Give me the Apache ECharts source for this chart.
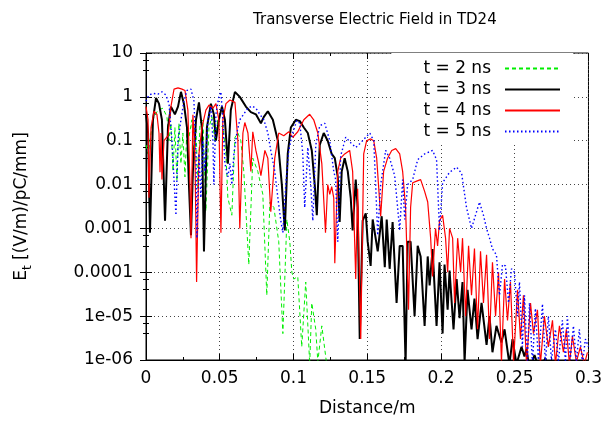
<!DOCTYPE html>
<html>
<head>
<meta charset="utf-8">
<script src="https://cdn.jsdelivr.net/npm/echarts@6/dist/echarts.min.js"></script>
<style>
  html, body { margin: 0; padding: 0; background: #fff; }
  #chart { width: 605px; height: 422px; }
</style>
</head>
<body>
<div id="chart"></div>
<script>
// tick labels of the log axis, from 1e-06 up to 10
var yTickLabels = ['1e-06', '1e-05', '0.0001', '0.001', '0.01', '0.1', '1', '10'];
var seriesNames = ['t = 2 ns', 't = 3 ns', 't = 4 ns', 't = 5 ns'];

// [distance (m), field]
var t2 = [[0,0.08],[0.0014,0.05],[0.0027,0.1],[0.0047,0.3],[0.008,0.5],[0.0115,0.55],[0.0142,0.35],[0.0156,0.1],
  [0.0169,0.25],[0.0183,0.02],[0.0196,0.2],[0.021,0.012],[0.0223,0.25],[0.0237,0.03],[0.025,0.15],[0.0264,0.015],
  [0.0278,0.2],[0.0291,0.12],[0.0311,0.3],[0.0325,0.03],[0.0339,0.2],[0.0352,0.008],[0.0366,0.25],[0.0386,0.3],
  [0.0406,0.0025],[0.0427,0.2],[0.0447,0.35],[0.0467,0.1],[0.0487,0.3],[0.05,0.2],[0.0521,0.22],[0.0542,0.05],
  [0.0555,0.005],[0.0582,0.002],[0.0603,0.12],[0.0623,0.15],[0.0643,0.1],[0.0663,0.02],[0.0697,0.00015],[0.0724,0.04],
  [0.0758,0.02],[0.0792,0.006],[0.0819,0.00003],[0.084,0.004],[0.0867,0.003],[0.09,0.0005],[0.0928,0.000004],
  [0.0955,0.0016],[0.0975,0.0005],[0.0989,0.0001],[0.1002,0.00007],[0.1029,0.00008],[0.1056,0.000002],[0.1083,0.00006],
  [0.111,0.0000008],[0.1124,0.00002],[0.1151,0.000005],[0.1165,0.0000009],[0.1192,0.000006],[0.1225,0.0000008]];

var t3 = [[0,0.4],[0.0014,0.15],[0.0027,0.0008],[0.0047,0.3],[0.0068,0.95],[0.0088,0.7],[0.0108,0.3],[0.0129,0.0015],
  [0.0149,0.2],[0.0169,0.6],[0.0196,0.4],[0.0217,0.6],[0.0237,1.3],[0.0257,0.7],[0.0278,0.2],[0.0291,0.01],[0.0305,0.0007],
  [0.0318,0.02],[0.0339,0.3],[0.0359,0.75],[0.0379,0.2],[0.0393,0.0003],[0.0413,0.2],[0.044,0.7],[0.046,0.4],[0.0474,0.1],
  [0.0494,0.3],[0.0515,0.6],[0.0535,0.3],[0.0555,0.03],[0.0575,0.5],[0.0603,1.3],[0.0636,1.0],[0.0677,0.6],[0.0711,0.45],
  [0.0745,0.4],[0.0779,0.25],[0.0799,0.35],[0.0826,0.47],[0.086,0.3],[0.0894,0.1],[0.0921,0.01],[0.0941,0.0009],
  [0.0961,0.05],[0.0982,0.2],[0.1016,0.3],[0.1043,0.28],[0.107,0.2],[0.1097,0.15],[0.1124,0.06],[0.1144,0.01],
  [0.1158,0.002],[0.1178,0.08],[0.1205,0.15],[0.1232,0.1],[0.1259,0.05],[0.128,0.04],[0.13,0.015],[0.1313,0.0014],
  [0.1327,0.02],[0.1347,0.04],[0.1368,0.02],[0.1388,0.005],[0.1401,0.0009],[0.1422,0.013],[0.1435,0.003],[0.1449,0.000003],
  [0.1469,0.0015],[0.149,0.0022],[0.1503,0.0005],[0.1523,0.00014],[0.1537,0.0016],[0.1571,0.0003],[0.1598,0.0019],
  [0.1619,0.00013],[0.1632,0.0016],[0.1652,0.00012],[0.1672,0.0014],[0.1699,0.00002],[0.172,0.0004],[0.174,0.0004],
  [0.176,0.0000008],[0.1774,0.0005],[0.1794,0.0005],[0.1821,0.00001],[0.1842,0.0004],[0.1862,0.00023],[0.1889,0.000006],
  [0.191,0.00023],[0.1923,0.00005],[0.1943,0.00034],[0.197,0.000006],[0.199,0.00017],[0.2011,0.000004],[0.2024,0.00015],
  [0.2045,0.000014],[0.2058,0.00011],[0.2085,0.000005],[0.2106,0.00007],[0.2126,0.000009],[0.2146,0.00006],[0.216,0.0000009],
  [0.218,0.00004],[0.2207,0.000005],[0.2227,0.000025],[0.2248,0.000003],[0.2275,0.00002],[0.2309,0.0000022],[0.2329,0.00001],
  [0.2349,0.0000015],[0.2376,0.000006],[0.241,0.0000025],[0.2431,0.000005],[0.2464,0.0000008],[0.2485,0.000003],
  [0.2512,0.0000008],[0.2546,0.000002],[0.2566,0.0000012],[0.258,0.0000018],[0.26,0.0000006],[0.2634,0.0000013],
  [0.2668,0.0000006],[0.2708,0.0000011],[0.2735,0.0000005]];

var t4 = [[0,0.6],[0.0014,0.3],[0.002,0.005],[0.0034,0.2],[0.0054,0.47],[0.0074,0.4],[0.0088,0.15],[0.0095,0.019],
  [0.0102,0.15],[0.0108,0.013],[0.0122,0.1],[0.0135,0.11],[0.0149,0.13],[0.0169,0.6],[0.019,1.5],[0.0217,1.6],[0.0244,1.5],
  [0.0264,1.4],[0.0284,0.5],[0.0298,0.01],[0.0305,0.0006],[0.0318,0.39],[0.0332,0.05],[0.0343,0.00006],[0.0359,0.05],
  [0.0379,0.2],[0.0406,0.5],[0.0427,0.65],[0.0454,0.55],[0.0474,0.7],[0.0494,0.3],[0.0508,0.0008],[0.0521,0.3],[0.0542,0.7],
  [0.0569,0.85],[0.0603,0.75],[0.0623,0.1],[0.0636,0.001],[0.0657,0.15],[0.067,0.26],[0.0691,0.15],[0.0711,0.02],
  [0.0724,0.16],[0.0745,0.06],[0.0765,0.03],[0.0779,0.016],[0.0806,0.06],[0.0826,0.04],[0.0846,0.0024],[0.0873,0.04],
  [0.09,0.15],[0.0934,0.13],[0.0968,0.16],[0.0995,0.12],[0.1029,0.16],[0.107,0.3],[0.111,0.4],[0.1137,0.3],[0.1165,0.15],
  [0.1192,0.03],[0.1217,0.0008],[0.1232,0.01],[0.1246,0.006],[0.1259,0.009],[0.1273,0.005],[0.128,0.00016],[0.13,0.02],
  [0.132,0.04],[0.1347,0.05],[0.1381,0.06],[0.1401,0.02],[0.1422,0.00007],[0.1435,0.008],[0.1456,0.000003],[0.1476,0.05],
  [0.1496,0.1],[0.1523,0.11],[0.1544,0.1],[0.1564,0.04],[0.1591,0.0019],[0.1611,0.02],[0.1638,0.04],[0.1666,0.06],
  [0.1693,0.066],[0.172,0.05],[0.174,0.02],[0.176,0.003],[0.178,0.000014],[0.1794,0.003],[0.1808,0.011],[0.1835,0.012],
  [0.1862,0.013],[0.1889,0.007],[0.191,0.004],[0.193,0.0006],[0.1943,0.00008],[0.1963,0.001],[0.1977,0.0004],[0.199,0.0015],
  [0.2011,0.002],[0.2031,0.0006],[0.2045,0.0001],[0.2058,0.001],[0.2079,0.0006],[0.2092,0.00002],[0.2113,0.0006],
  [0.2133,0.0001],[0.2146,0.0006],[0.2167,0.00001],[0.2187,0.0004],[0.2207,0.00003],[0.2227,0.00035],[0.2248,0.000005],
  [0.2268,0.0003],[0.2288,0.00002],[0.2309,0.00025],[0.2329,0.000003],[0.2349,0.00017],[0.237,0.00001],[0.239,0.0001],
  [0.241,0.0000009],[0.2431,0.00007],[0.2451,0.000008],[0.2471,0.00006],[0.2492,0.0000009],[0.2519,0.00004],
  [0.2539,0.000003],[0.2559,0.00003],[0.258,0.0000008],[0.2607,0.00002],[0.2627,0.000004],[0.2654,0.000014],
  [0.2674,0.0000008],[0.2701,0.00001],[0.2728,0.000002],[0.2756,0.000008],[0.2776,0.0000008],[0.2803,0.000006],
  [0.283,0.0000015],[0.285,0.000005],[0.2871,0.0000008],[0.2891,0.0000035],[0.2918,0.0000009],[0.2945,0.000002],
  [0.2972,0.0000008],[0.2993,0.0000015]];

var t5 = [[0,0.8],[0.002,1.1],[0.0047,1.2],[0.0081,1.15],[0.0108,1.3],[0.0135,1.1],[0.0156,0.7],[0.0176,0.1],[0.019,0.013],
  [0.0203,0.002],[0.0217,0.1],[0.0237,0.3],[0.0257,0.8],[0.0278,1.4],[0.0305,1.5],[0.0325,0.8],[0.0339,0.05],[0.0345,0.0006],
  [0.0359,0.05],[0.0372,0.005],[0.0386,0.1],[0.0399,0.02],[0.042,0.3],[0.044,0.6],[0.0454,0.1],[0.046,0.01],[0.0474,0.4],
  [0.0494,1.0],[0.0508,1.3],[0.0521,0.3],[0.0535,0.03],[0.0555,0.015],[0.0569,0.03],[0.0582,0.01],[0.0596,0.05],
  [0.0616,0.15],[0.0636,0.3],[0.0657,0.38],[0.0691,0.55],[0.0718,0.62],[0.0745,0.55],[0.0772,0.4],[0.0799,0.3],
  [0.0826,0.15],[0.0846,0.06],[0.0873,0.02],[0.0894,0.005],[0.0914,0.0015],[0.0928,0.0008],[0.0948,0.01],[0.0968,0.06],
  [0.0989,0.13],[0.1022,0.29],[0.1043,0.25],[0.1063,0.05],[0.1076,0.003],[0.1097,0.07],[0.1117,0.01],[0.1131,0.0015],
  [0.1151,0.08],[0.1178,0.22],[0.1212,0.25],[0.1246,0.1],[0.1273,0.02],[0.1286,0.013],[0.13,0.0005],[0.132,0.045],
  [0.1354,0.12],[0.1388,0.09],[0.1422,0.07],[0.1456,0.09],[0.149,0.12],[0.1517,0.15],[0.1544,0.1],[0.1557,0.01],
  [0.1571,0.0007],[0.1591,0.01],[0.1625,0.06],[0.1652,0.04],[0.1686,0.016],[0.1706,0.003],[0.172,0.0009],[0.174,0.013],
  [0.1754,0.0016],[0.1774,0.01],[0.1808,0.013],[0.1842,0.037],[0.1889,0.05],[0.1943,0.06],[0.197,0.037],[0.199,0.0009],
  [0.2011,0.011],[0.2058,0.019],[0.2106,0.025],[0.214,0.018],[0.2173,0.003],[0.2207,0.001],[0.2234,0.002],[0.2261,0.004],
  [0.2288,0.002],[0.2309,0.001],[0.2329,0.0006],[0.2349,0.00034],[0.2376,0.00025],[0.2383,0.00012],[0.2397,0.00003],
  [0.2417,0.00015],[0.2437,0.00014],[0.2458,0.00002],[0.2478,0.00012],[0.2498,0.0001],[0.2519,0.00001],[0.2532,0.00006],
  [0.2552,0.000002],[0.2566,0.00003],[0.2586,0.0000009],[0.26,0.00002],[0.262,0.0000008],[0.264,0.000015],
  [0.2661,0.0000009],[0.2688,0.000019],[0.2708,0.0000008],[0.2728,0.00001],[0.2749,0.000001],[0.2776,0.000005],
  [0.2796,0.0000009],[0.2823,0.000008],[0.2844,0.0000009],[0.2857,0.00001],[0.2877,0.000001],[0.2898,0.000006],
  [0.2918,0.0000009],[0.2938,0.000005],[0.2959,0.0000008],[0.2979,0.000003],[0.3,0.000002]];

var font = 'DejaVu Sans';
var myChart = echarts.init(document.getElementById('chart'), null, { renderer: 'canvas' });

function mkSeries(name, data, color, width, dash) {
  return {
    name: name,
    type: 'line',
    data: data,
    symbol: 'none',
    showSymbol: false,
    clip: true,
    animation: false,
    lineStyle: { color: color, width: width, type: dash },
    itemStyle: { color: color },
    z: 2
  };
}

var option = {
  animation: false,
  backgroundColor: '#fff',
  title: {
    text: 'Transverse Electric Field in TD24',
    left: 253,
    top: 13,
    padding: 0,
    textStyle: { fontFamily: font, fontSize: 15, fontWeight: 'normal', color: '#000' }
  },
  legend: {
    data: seriesNames,
    orient: 'vertical',
    right: 32,
    top: 53,
    align: 'right',
    itemWidth: 55,
    itemHeight: 14,
    itemGap: 4,
    padding: [7, 12, 2, 32],
    backgroundColor: '#fff',
    selectedMode: false,
    itemStyle: { opacity: 0, borderWidth: 0 },
    textStyle: { fontFamily: font, fontSize: 17, color: '#000', padding: [0, 9, 0, 0] },
    z: 10
  },
  grid: {
    left: 146, right: 16, top: 53, bottom: 61,
    show: true, borderColor: '#000', borderWidth: 1, backgroundColor: 'transparent'
  },
  xAxis: [{
    type: 'value', min: 0, max: 0.3, interval: 0.05,
    name: 'Distance/m', nameLocation: 'middle', nameGap: 40,
    nameTextStyle: { fontFamily: font, fontSize: 17, color: '#000' },
    axisLine: { show: true, lineStyle: { color: '#000' } },
    axisTick: { show: true, inside: true, length: 6, lineStyle: { color: '#000' } },
    minorTick: { show: true, splitNumber: 2, length: 3, lineStyle: { color: '#000' } },
    axisLabel: { fontFamily: font, fontSize: 17, color: '#000', margin: 10 },
    splitLine: { show: true, lineStyle: { color: '#444', type: [1, 3], width: 1 } }
  }, {
    type: 'value', min: 0, max: 0.3, interval: 0.05, position: 'top',
    axisLine: { show: false },
    axisTick: { show: true, inside: true, length: 6, lineStyle: { color: '#000' } },
    minorTick: { show: true, splitNumber: 2, length: 3, lineStyle: { color: '#000' } },
    axisLabel: { show: false },
    splitLine: { show: false }
  }],
  yAxis: [{
    type: 'log', logBase: 10, min: 1e-6, max: 10, interval: 1,
    name: '{m|E}{s|t}{m| [(V/m)/pC/mm]}', nameLocation: 'middle', nameGap: 112,
    nameTextStyle: {
      fontFamily: font, color: '#000',
      rich: {
        m: { fontFamily: font, fontSize: 17, color: '#000', lineHeight: 24 },
        s: { fontFamily: font, fontSize: 12, color: '#000', lineHeight: 24, verticalAlign: 'bottom' }
      }
    },
    axisLine: { show: true, lineStyle: { color: '#000' } },
    axisTick: { show: true, inside: true, length: 6, lineStyle: { color: '#000' } },
    minorTick: { show: true, splitNumber: 3, length: 3, lineStyle: { color: '#000' } },
    axisLabel: {
      fontFamily: font, fontSize: 17, color: '#000', margin: 13,
      formatter: function (v) {
        var i = Math.round(Math.log10(v)) + 6;
        return yTickLabels[i] !== undefined ? yTickLabels[i] : '';
      }
    },
    splitLine: { show: true, lineStyle: { color: '#444', type: [1, 3], width: 1 } }
  }, {
    type: 'log', logBase: 10, min: 1e-6, max: 10, interval: 1, position: 'right',
    axisLine: { show: false },
    axisTick: { show: true, inside: true, length: 6, lineStyle: { color: '#000' } },
    minorTick: { show: true, splitNumber: 3, length: 3, lineStyle: { color: '#000' } },
    axisLabel: { show: false },
    splitLine: { show: false }
  }],
  series: [
    mkSeries(seriesNames[0], t2, '#00ee00', 1, [4, 3]),
    mkSeries(seriesNames[1], t3, '#000000', 2, 'solid'),
    mkSeries(seriesNames[2], t4, '#ff0000', 1.2, 'solid'),
    mkSeries(seriesNames[3], t5, '#0000ff', 1.4, [1.5, 2.5])
  ]
};
myChart.setOption(option);
</script>
</body>
</html>
